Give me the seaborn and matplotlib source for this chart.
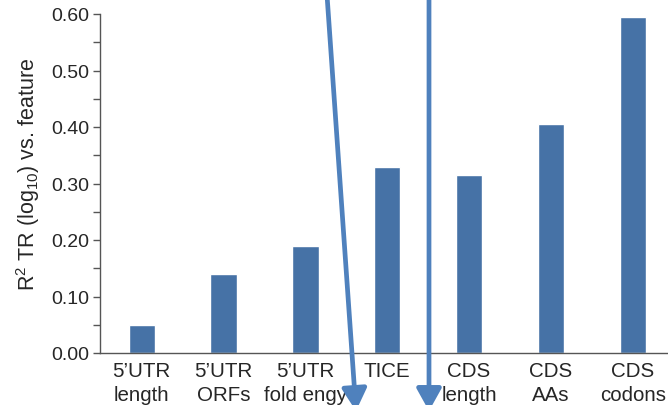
import matplotlib
matplotlib.use("Agg")
import matplotlib.pyplot as plt
import seaborn as sns
import pandas as pd
from matplotlib.ticker import MultipleLocator
from matplotlib.patches import FancyArrowPatch

features = ["5’UTR\nlength", "5’UTR\nORFs", "5’UTR\nfold engy", "TICE",
            "CDS\nlength", "CDS\nAAs", "CDS\ncodons"]
r2_values = [0.05, 0.14, 0.19, 0.33, 0.315, 0.405, 0.595]
y_ticks = [0.00, 0.10, 0.20, 0.30, 0.40, 0.50, 0.60]

sns.set_style("ticks")
plt.rcParams["font.family"] = ["Liberation Sans", "DejaVu Sans"]
plt.rcParams["mathtext.fontset"] = "custom"
plt.rcParams["mathtext.rm"] = "Liberation Sans"
plt.rcParams["mathtext.it"] = "Liberation Sans"
plt.rcParams["mathtext.default"] = "regular"

df = pd.DataFrame({"feature": features, "r2": r2_values})

fig = plt.figure(figsize=(6.68, 4.06), dpi=100)
ax = fig.add_axes([100 / 668, 52 / 406, 568 / 668, 339 / 406])

sns.barplot(data=df, x="feature", y="r2", color="#4672a6", saturation=1,
            width=0.32, ax=ax)

text_color = "#262626"
ax.set_xlim(-0.51, 6.43)
ax.set_ylim(0, 0.60)
ax.set_yticks(y_ticks)
ax.set_yticklabels([f"{v:.2f}" for v in y_ticks])
ax.yaxis.set_minor_locator(MultipleLocator(0.05))
ax.tick_params(axis="y", which="both", length=5, width=1, color="#555555",
               labelsize=14, labelcolor=text_color, pad=3)
ax.tick_params(axis="x", length=0, labelsize=14.8, labelcolor=text_color, pad=6)
for lbl in ax.get_xticklabels():
    lbl.set_linespacing(1.3)
ax.set_xlabel("")
ax.set_ylabel(r"R$^2$ TR (log$_{10}$) vs. feature", fontsize=15.5,
              color=text_color, labelpad=6)
ax.yaxis.label.set_y(0.53)
sns.despine(ax=ax)
for s in ("left", "bottom"):
    ax.spines[s].set_color("#555555")
    ax.spines[s].set_linewidth(1.0)

# two overlay arrows pointing down through the plot
arrow_color = "#4f81bd"
for (x0, y0), (x1, y1) in [((327, 410), (356, -6)), ((429, 410), (429, -6))]:
    arr = FancyArrowPatch((x0, y0), (x1, y1), transform=None,
                          arrowstyle="-|>,head_length=9,head_width=5",
                          color=arrow_color, linewidth=3.4,
                          mutation_scale=1.5, shrinkA=0, shrinkB=0)
    fig.add_artist(arr)

fig.savefig("out.png", dpi=100)
